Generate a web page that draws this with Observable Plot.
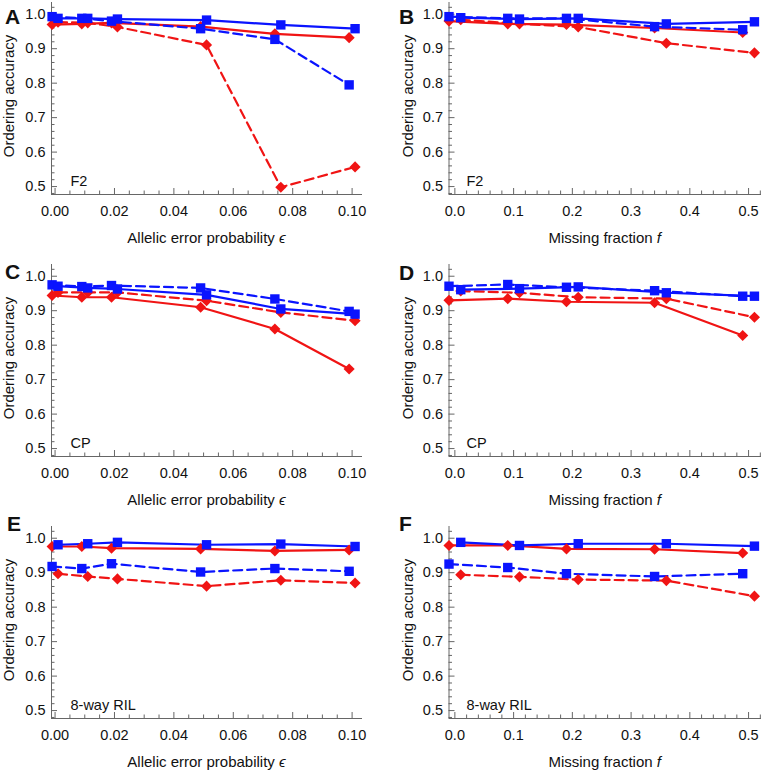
<!DOCTYPE html>
<html><head><meta charset="utf-8">
<script src="https://cdn.jsdelivr.net/npm/d3@7"></script>
<script src="https://cdn.jsdelivr.net/npm/@observablehq/plot@0.6"></script>
<style>
body{margin:0;background:#fff;}
#fig{position:relative;width:762px;height:773px;overflow:hidden;font-family:"Liberation Sans",Arial,sans-serif;color:#111;}
.panel{position:absolute;}
.xt{position:absolute;font-size:15px;line-height:18px;white-space:nowrap;transform:translate(-50%,-50%);}
.yt{position:absolute;font-size:15px;line-height:18px;white-space:nowrap;transform:translate(-50%,-50%) rotate(-90deg);}
.letter{position:absolute;font-weight:bold;font-size:21px;line-height:21px;}
</style></head><body><div id="fig"></div>
<script>
// x positions (points are slightly offset left/right of nominal values)
const errorXLeft  = [-0.001, 0.009, 0.019, 0.049, 0.074, 0.099];
const errorXRight = [0.001, 0.011, 0.021, 0.051, 0.076, 0.101];
const missXLeft   = [-0.01, 0.09, 0.19, 0.34, 0.49];
const missXRight  = [0.01, 0.11, 0.21, 0.36, 0.51];

// tick values
const errorTicks = [0, 0.02, 0.04, 0.06, 0.08, 0.10];
const errorMinor = [0.005,0.01,0.015,0.025,0.03,0.035,0.045,0.05,0.055,0.065,0.07,0.075,0.085,0.09,0.095];
const missTicks = [0, 0.1, 0.2, 0.3, 0.4, 0.5];
const missMinor = [0.02,0.04,0.06,0.08,0.12,0.14,0.16,0.18,0.22,0.24,0.26,0.28,0.32,0.34,0.36,0.38,0.42,0.44,0.46,0.48,0.52];
const yTicks = [0.5, 0.6, 0.7, 0.8, 0.9, 1.0];
const yMinor = [0.48,0.52,0.54,0.56,0.58,0.62,0.64,0.66,0.68,0.72,0.74,0.76,0.78,0.82,0.84,0.86,0.88,0.92,0.94,0.96,0.98,1.02];

// Panel A (F2, allelic error)
const aBlueSolid  = [0.988, 0.988, 0.986, 0.983, 0.969, 0.958];
const aBlueDashed = [0.993, 0.988, 0.980, 0.958, 0.927, 0.795];
const aRedSolid   = [0.970, 0.972, 0.975, 0.964, 0.943, 0.932];
const aRedDashed  = [0.977, 0.975, 0.963, 0.911, 0.498, 0.557];
// Panel B (F2, missing)
const bBlueSolid  = [0.990, 0.986, 0.988, 0.972, 0.978];
const bBlueDashed = [0.993, 0.988, 0.988, 0.964, 0.955];
const bRedSolid   = [0.980, 0.972, 0.970, 0.960, 0.947];
const bRedDashed  = [0.984, 0.972, 0.963, 0.916, 0.888];
// Panel C (CP, allelic error)
const cBlueSolid  = [0.971, 0.966, 0.963, 0.946, 0.905, 0.890];
const cBlueDashed = [0.975, 0.970, 0.973, 0.966, 0.934, 0.898];
const cRedSolid   = [0.944, 0.939, 0.939, 0.910, 0.847, 0.731];
const cRedDashed  = [0.953, 0.953, 0.953, 0.929, 0.895, 0.871];
// Panel D (CP, missing)
const dBlueSolid  = [0.961, 0.964, 0.969, 0.952, 0.942];
const dBlueDashed = [0.971, 0.976, 0.968, 0.958, 0.942];
const dRedSolid   = [0.930, 0.935, 0.926, 0.923, 0.828];
const dRedDashed  = [0.957, 0.952, 0.939, 0.935, 0.881];
// Panel E (8-way RIL, allelic error)
const eBlueSolid  = [0.981, 0.984, 0.988, 0.981, 0.983, 0.976];
const eBlueDashed = [0.918, 0.912, 0.926, 0.902, 0.912, 0.904];
const eRedSolid   = [0.976, 0.976, 0.971, 0.969, 0.963, 0.966];
const eRedDashed  = [0.897, 0.889, 0.882, 0.861, 0.878, 0.870];
// Panel F (8-way RIL, missing)
const fBlueSolid  = [0.988, 0.979, 0.984, 0.984, 0.977];
const fBlueDashed = [0.925, 0.915, 0.897, 0.889, 0.897];
const fRedSolid   = [0.979, 0.979, 0.969, 0.968, 0.957];
const fRedDashed  = [0.894, 0.888, 0.880, 0.877, 0.832];

const panelLetters = ["A","B","C","D","E","F"];
const populations = ["F2","F2","CP","CP","8-way RIL","8-way RIL"];

const BLUE = "#0a14ff", RED = "#f01414";
const FONT = "'Liberation Sans', Arial, sans-serif";
const yDomain = [0.477, 1.034];

function makePanel(idx, kind, vals) {
  const left = idx % 2 === 0;
  const isErr = kind === "error";
  const W = 381, H = idx >= 4 ? 250 : 262;
  const mL = left ? 51 : 67.5, mR = left ? 19 : 1, mT = 2, mB = H - 194;
  const plotW = W - mL - mR, plotH = H - mT - mB;
  const xDomain = isErr ? [-0.0012, 0.1035] : [-0.01, 0.522];
  const xL = isErr ? errorXLeft : missXLeft, xR = isErr ? errorXRight : missXRight;
  const series = [
    {y: vals[3], xs: xR, color: RED, dash: "9,5", sym: "diamond2", r: 5},
    {y: vals[2], xs: xL, color: RED, dash: null, sym: "diamond2", r: 5},
    {y: vals[1], xs: xL, color: BLUE, dash: "9,5", sym: "square", r: 5.3},
    {y: vals[0], xs: xR, color: BLUE, dash: null, sym: "square", r: 5.3}
  ].map(s => ({...s, rows: s.y.map((v, i) => ({x: s.xs[i], y: v}))}));
  const tickStroke = "#666";
  const marks = [
    Plot.ruleX([xDomain[0]], {stroke: tickStroke, strokeWidth: 1}),
    Plot.ruleY([yDomain[0]], {stroke: tickStroke, strokeWidth: 1}),
    Plot.tickX(isErr ? errorTicks : missTicks, {x: d => d, stroke: tickStroke, insetTop: plotH - 6}),
    Plot.tickX(isErr ? errorMinor : missMinor, {x: d => d, stroke: tickStroke, insetTop: plotH - 3.5}),
    Plot.tickY(yTicks, {y: d => d, stroke: tickStroke, insetRight: plotW - 6}),
    Plot.tickY(yMinor, {y: d => d, stroke: tickStroke, insetRight: plotW - 3.5}),
    Plot.text([populations[idx]], {text: d => d, frameAnchor: "bottom-left", dx: left ? 19 : 17.5, dy: -9, textAnchor: "start", fontSize: 14.5, fill: "#111"})
  ];
  for (const s of series) marks.push(Plot.line(s.rows, {x: "x", y: "y", stroke: s.color, strokeWidth: 2.2, strokeDasharray: s.dash}));
  for (const s of series) marks.push(Plot.dot(s.rows, {x: "x", y: "y", symbol: s.sym, r: s.r, fill: s.color, stroke: "none"}));
  return Plot.plot({
    width: W, height: H, marginLeft: mL, marginRight: mR, marginTop: mT, marginBottom: mB,
    style: {fontFamily: FONT, fontSize: "14.5px", color: "#111", background: "transparent", overflow: "visible"},
    x: {domain: xDomain, ticks: isErr ? errorTicks : missTicks, tickFormat: isErr ? ".2f" : ".1f", tickSize: 0, tickPadding: 11, label: null},
    y: {domain: yDomain, ticks: yTicks, tickFormat: ".1f", tickSize: 0, tickPadding: 6, label: null},
    marks
  });
}

const fig = document.getElementById("fig");
const rowTops = [0, 262, 524];
const panelVals = [
  [aBlueSolid, aBlueDashed, aRedSolid, aRedDashed],
  [bBlueSolid, bBlueDashed, bRedSolid, bRedDashed],
  [cBlueSolid, cBlueDashed, cRedSolid, cRedDashed],
  [dBlueSolid, dBlueDashed, dRedSolid, dRedDashed],
  [eBlueSolid, eBlueDashed, eRedSolid, eRedDashed],
  [fBlueSolid, fBlueDashed, fRedSolid, fRedDashed]
];
const letterPos = [[5,6],[399,6],[5,261],[399,262],[7,513],[399,513]];
panelVals.forEach((vals, idx) => {
  const col = idx % 2, row = Math.floor(idx / 2);
  const kind = col === 0 ? "error" : "missing";
  const svg = makePanel(idx, kind, vals);
  const wrap = document.createElement("div");
  wrap.className = "panel";
  wrap.style.left = (col * 381) + "px";
  wrap.style.top = rowTops[row] + "px";
  wrap.appendChild(svg);
  fig.appendChild(wrap);
  // x axis title
  const xt = document.createElement("div");
  xt.className = "xt";
  xt.innerHTML = kind === "error" ? "Allelic error probability <i>ϵ</i>" : "Missing fraction <i>f</i>";
  xt.style.left = (col === 0 ? 206.5 : 604.7) + "px";
  xt.style.top = (rowTops[row] + 238) + "px";
  fig.appendChild(xt);
  // y axis title
  const yt = document.createElement("div");
  yt.className = "yt";
  yt.textContent = "Ordering accuracy";
  yt.style.left = (col === 0 ? 9 : 408) + "px";
  yt.style.top = (rowTops[row] + 96) + "px";
  fig.appendChild(yt);
  // panel letter
  const lt = document.createElement("div");
  lt.className = "letter";
  lt.textContent = panelLetters[idx];
  lt.style.left = letterPos[idx][0] + "px";
  lt.style.top = letterPos[idx][1] + "px";
  fig.appendChild(lt);
});
</script></body></html>
